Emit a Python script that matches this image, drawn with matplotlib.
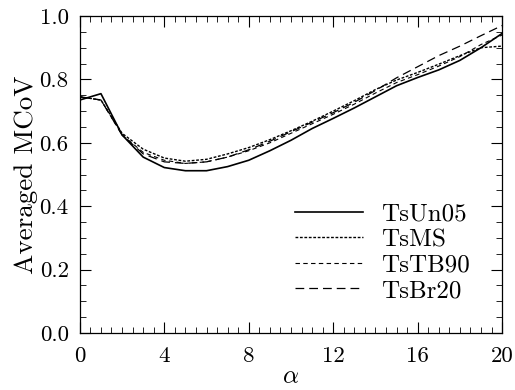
import matplotlib
matplotlib.use("Agg")
import matplotlib.pyplot as plt
from matplotlib.ticker import MultipleLocator, FormatStrFormatter

alpha = list(range(0, 21))
ts_un05 = [0.735, 0.755, 0.625, 0.555, 0.522, 0.512, 0.512, 0.525, 0.545, 0.575, 0.608,
           0.645, 0.677, 0.710, 0.745, 0.780, 0.806, 0.830, 0.860, 0.900, 0.945]
ts_ms = [0.745, 0.735, 0.630, 0.580, 0.552, 0.542, 0.548, 0.565, 0.585, 0.610, 0.638,
         0.668, 0.700, 0.733, 0.768, 0.798, 0.822, 0.848, 0.875, 0.900, 0.905]
ts_tb90 = [0.745, 0.735, 0.625, 0.570, 0.545, 0.535, 0.540, 0.555, 0.575, 0.600, 0.630,
           0.660, 0.690, 0.722, 0.757, 0.790, 0.815, 0.842, 0.872, 0.910, 0.940]
ts_br20 = [0.745, 0.735, 0.625, 0.565, 0.540, 0.535, 0.540, 0.555, 0.578, 0.605, 0.635,
           0.665, 0.695, 0.728, 0.765, 0.805, 0.840, 0.875, 0.905, 0.938, 0.970]
labels = ["TsUn05", "TsMS", "TsTB90", "TsBr20"]

plt.rcParams['font.family'] = ['cmr10', 'DejaVu Serif']
plt.rcParams['mathtext.fontset'] = 'cm'
plt.rcParams['axes.formatter.use_mathtext'] = True

fig = plt.figure(figsize=(5.15, 3.9), dpi=100)
ax = fig.add_axes([0.155, 0.146, 0.82, 0.813])

ax.plot(alpha, ts_un05, color='black', lw=1.2, linestyle='-', label=labels[0])
ax.plot(alpha, ts_ms, color='black', lw=1.0, linestyle=(0, (2, 1.2)), label=labels[1])
ax.plot(alpha, ts_tb90, color='black', lw=0.8, linestyle=(0, (4, 3)), label=labels[2])
ax.plot(alpha, ts_br20, color='black', lw=0.9, linestyle=(0, (7, 4)), label=labels[3])

ax.set_xlim(0, 20)
ax.set_ylim(0, 1.0)
ax.xaxis.set_major_locator(MultipleLocator(4))
ax.xaxis.set_minor_locator(MultipleLocator(0.5))
ax.yaxis.set_major_locator(MultipleLocator(0.2))
ax.yaxis.set_minor_locator(MultipleLocator(0.05))
ax.yaxis.set_major_formatter(FormatStrFormatter('%.1f'))
ax.xaxis.set_major_formatter(FormatStrFormatter('%d'))
ax.tick_params(which='both', direction='in', top=True, right=True, labelsize=16.5)
ax.tick_params(which='major', length=8, width=0.8)
ax.tick_params(axis='x', which='major', pad=10)
ax.tick_params(axis='y', which='major', pad=8)
ax.tick_params(which='minor', length=4, width=0.6)
for s in ax.spines.values():
    s.set_linewidth(0.9)

ax.set_xlabel(r'$\alpha$', fontsize=18, labelpad=0)
ax.set_ylabel('Averaged MCoV', fontsize=19.5, labelpad=1)

ax.legend(loc='lower right', frameon=False, fontsize=18, handlelength=2.7,
          labelspacing=0.12, borderaxespad=0.0, handletextpad=0.75,
          bbox_to_anchor=(0.948, 0.066))

fig.savefig('out.png', dpi=100)
